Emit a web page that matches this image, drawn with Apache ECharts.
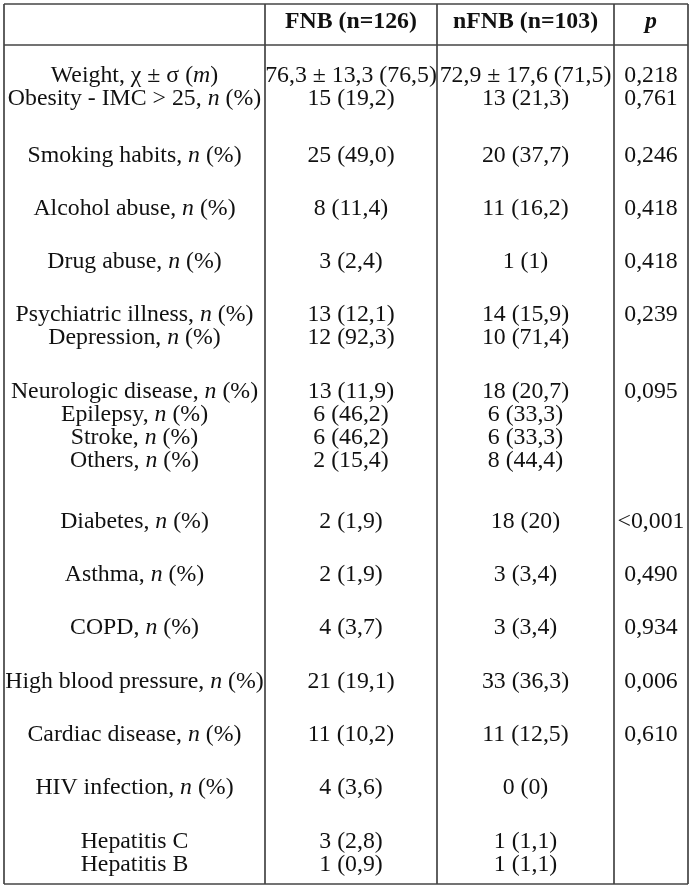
<!DOCTYPE html>
<html><head><meta charset="utf-8">
<script src="https://cdn.jsdelivr.net/npm/echarts@6/dist/echarts.min.js"></script>
<style>html,body{margin:0;padding:0;background:#fff}#c{width:693px;height:889px}</style>
</head><body><div id="c"></div>
<script>
// ---- content ----
const headers = ['', 'FNB (n=126)', 'nFNB (n=103)', '{pi|p}'];
const variables = [
  'Weight, χ ± σ ({i|m})',
  'Obesity - IMC > 25, {i|n} (%)',
  'Smoking habits, {i|n} (%)',
  'Alcohol abuse, {i|n} (%)',
  'Drug abuse, {i|n} (%)',
  'Psychiatric illness, {i|n} (%)',
  'Depression, {i|n} (%)',
  'Neurologic disease, {i|n} (%)',
  'Epilepsy, {i|n} (%)',
  'Stroke, {i|n} (%)',
  'Others, {i|n} (%)',
  'Diabetes, {i|n} (%)',
  'Asthma, {i|n} (%)',
  'COPD, {i|n} (%)',
  'High blood pressure, {i|n} (%)',
  'Cardiac disease, {i|n} (%)',
  'HIV infection, {i|n} (%)',
  'Hepatitis C',
  'Hepatitis B'
];
const fnbValues = ['76,3 ± 13,3 (76,5)', '15 (19,2)', '25 (49,0)', '8 (11,4)', '3 (2,4)', '13 (12,1)', '12 (92,3)',
  '13 (11,9)', '6 (46,2)', '6 (46,2)', '2 (15,4)', '2 (1,9)', '2 (1,9)', '4 (3,7)', '21 (19,1)', '11 (10,2)', '4 (3,6)',
  '3 (2,8)', '1 (0,9)'];
const nfnbValues = ['72,9 ± 17,6 (71,5)', '13 (21,3)', '20 (37,7)', '11 (16,2)', '1 (1)', '14 (15,9)', '10 (71,4)',
  '18 (20,7)', '6 (33,3)', '6 (33,3)', '8 (44,4)', '18 (20)', '3 (3,4)', '3 (3,4)', '33 (36,3)', '11 (12,5)', '0 (0)',
  '1 (1,1)', '1 (1,1)'];
const pValues = ['0,218', '0,761', '0,246', '0,418', '0,418', '0,239', '', '0,095', '', '', '', '<0,001', '0,490',
  '0,934', '0,006', '0,610', '', '', ''];

// ---- layout (table geometry in page units) ----
const colEdges = [4, 265, 437, 614, 688];
const tableTop = 4, headerBottom = 45, tableBottom = 884;
const headerY = 22;
const rowY = [76, 99, 156, 208.5, 261.5, 314.5, 337.5, 391.5, 414.5, 437.5, 460.5, 521.5, 575, 628, 681.5, 734.5, 787.5, 841.5, 864.5];
const FONT = '"Liberation Serif", "Times New Roman", serif';
const FS = 23.8;
const TEXT_COLOR = '#111111';
const LINE_COLOR = '#444444';

const columns = [variables, fnbValues, nfnbValues, pValues];
const cellData = [];
for (let c = 0; c < 4; c++) {
  cellData.push([c, -1]);
  for (let r = 0; r < variables.length; r++) if (columns[c][r]) cellData.push([c, r]);
}
const lineData = [
  [colEdges[0], tableTop, colEdges[4], tableTop],
  [colEdges[0], headerBottom, colEdges[4], headerBottom],
  [colEdges[0], tableBottom, colEdges[4], tableBottom]
];
colEdges.forEach(x => lineData.push([x, tableTop, x, tableBottom]));

const rich = {
  i: { fontStyle: 'italic', fontSize: FS, fontFamily: FONT, fill: TEXT_COLOR },
  pi: { fontStyle: 'italic', fontWeight: 'bold', fontSize: FS, fontFamily: FONT, fill: TEXT_COLOR }
};

const chart = echarts.init(document.getElementById('c'), null, { renderer: 'canvas' });
chart.setOption({
  backgroundColor: '#ffffff',
  animation: false,
  grid: { left: 0, right: 0, top: 0, bottom: 0 },
  xAxis: { type: 'value', min: 0, max: 693, show: false },
  yAxis: { type: 'value', min: 0, max: 889, inverse: true, show: false },
  series: [
    {
      type: 'custom',
      coordinateSystem: 'cartesian2d',
      data: lineData,
      silent: true,
      renderItem: function (params, api) {
        const a = api.coord([api.value(0), api.value(1)]);
        const b = api.coord([api.value(2), api.value(3)]);
        return {
          type: 'line',
          shape: { x1: a[0], y1: a[1], x2: b[0], y2: b[1] },
          style: { stroke: LINE_COLOR, lineWidth: 1.7 }
        };
      }
    },
    {
      type: 'custom',
      coordinateSystem: 'cartesian2d',
      data: cellData,
      silent: true,
      renderItem: function (params, api) {
        const c = api.value(0), r = api.value(1);
        const x = (colEdges[c] + colEdges[c + 1]) / 2;
        const y = r < 0 ? headerY : rowY[r];
        const p = api.coord([x, y]);
        const header = r < 0;
        const text = header ? headers[c] : columns[c][r];
        return {
          type: 'text',
          x: p[0], y: p[1],
          style: {
            text: text,
            align: 'center',
            verticalAlign: 'middle',
            fontSize: FS,
            fontFamily: FONT,
            fontWeight: header ? 'bold' : 'normal',
            fill: TEXT_COLOR,
            rich: rich
          }
        };
      }
    }
  ]
});
</script>
</body></html>
